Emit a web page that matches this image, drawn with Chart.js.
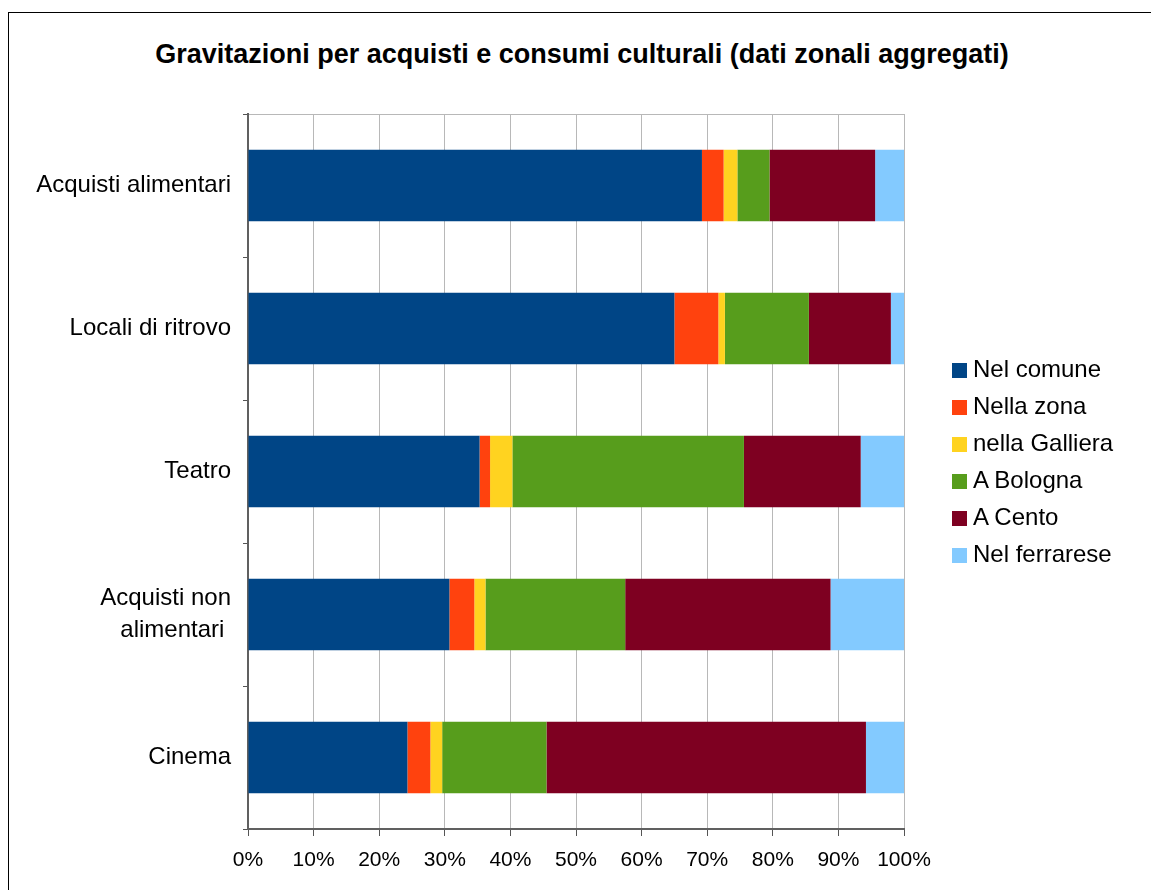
<!DOCTYPE html>
<html>
<head>
<meta charset="utf-8">
<script src="https://cdn.jsdelivr.net/npm/chart.js@4"></script>
<style>
  html, body { margin: 0; padding: 0; background: #fff; overflow: hidden; }
  body { width: 1151px; height: 890px; position: relative; font-family: "Liberation Sans", Arial, sans-serif; }
  #frame { position: absolute; left: 8px; top: 12px; width: 1200px; height: 950px; border: 1px solid #000; box-sizing: border-box; }
  #wrap { position: absolute; left: 0; top: 0; width: 1151px; height: 890px; }
  #titolo { position: absolute; left: 8px; width: 1148px; top: 38px; text-align: center; font-size: 27px; font-weight: bold; line-height: 32px; color: #000; white-space: nowrap; }
  #legenda { position: absolute; left: 952px; top: 350px; font-size: 24px; line-height: 37px; color: #000; }
  #legenda div { white-space: nowrap; }
  #legenda span { display: inline-block; width: 15px; height: 15px; margin-right: 6px; vertical-align: -1px; }
</style>
</head>
<body>
<div id="frame"></div>
<div id="titolo">Gravitazioni per acquisti e consumi culturali (dati zonali aggregati)</div>
<div id="wrap"><canvas id="grafico" width="1151" height="890"></canvas></div>
<div id="legenda"></div>
<script>
const categorie = ['Acquisti alimentari', 'Locali di ritrovo', 'Teatro', ['Acquisti non', 'alimentari '], 'Cinema'];

const nelComune     = [69.2, 65.0, 35.3, 30.7, 24.3];
const nellaZona     = [3.3, 6.7, 1.6, 3.8, 3.5];
const nellaGalliera = [2.1, 1.0, 3.4, 1.7, 1.8];
const aBologna      = [4.9, 12.8, 35.3, 21.3, 15.9];
const aCento        = [16.1, 12.5, 17.8, 31.3, 48.7];
const nelFerrarese  = [4.4, 2.0, 6.6, 11.2, 5.8];

const serie = [
  { label: 'Nel comune', data: nelComune, color: '#004586' },
  { label: 'Nella zona', data: nellaZona, color: '#ff420e' },
  { label: 'nella Galliera', data: nellaGalliera, color: '#ffd320' },
  { label: 'A Bologna', data: aBologna, color: '#579d1c' },
  { label: 'A Cento', data: aCento, color: '#7e0021' },
  { label: 'Nel ferrarese', data: nelFerrarese, color: '#83caff' }
];

const font = 'Liberation Sans, Arial, sans-serif';

new Chart(document.getElementById('grafico'), {
  type: 'bar',
  data: {
    labels: categorie,
    datasets: serie.map(s => ({
      label: s.label,
      data: s.data,
      backgroundColor: s.color,
      borderWidth: 0,
      categoryPercentage: 0.5,
      barPercentage: 1
    }))
  },
  options: {
    indexAxis: 'y',
    responsive: false,
    animation: false,
    layout: { padding: { left: 0, right: 247, top: 114, bottom: 0 } },
    plugins: {
      legend: { display: false },
      tooltip: { enabled: false },
      title: { display: false }
    },
    scales: {
      x: {
        stacked: true,
        min: 0,
        max: 100,
        ticks: {
          stepSize: 10,
          color: '#000',
          padding: 12,
          font: { family: font, size: 21 },
          callback: v => v + '%'
        },
        grid: { color: '#b8b8b8', tickColor: '#555', tickLength: 7, lineWidth: 1 },
        border: { color: '#606060', width: 2 },
        afterFit: s => { s.height = 61; }
      },
      y: {
        stacked: true,
        ticks: {
          color: '#000',
          padding: 12,
          font: { family: font, size: 24, lineHeight: 1.33 }
        },
        grid: {
          offset: true,
          color: c => c.index === 0 ? '#b8b8b8' : 'rgba(0,0,0,0)',
          tickColor: '#555',
          tickLength: 5
        },
        border: { color: '#606060', width: 2 },
        afterFit: s => { s.width = 248; }
      }
    }
  }
});

// legenda manuale
document.getElementById('legenda').innerHTML = serie.map(s =>
  `<div><span style="background:${s.color}"></span>${s.label}</div>`
).join('');
</script>
</body>
</html>
